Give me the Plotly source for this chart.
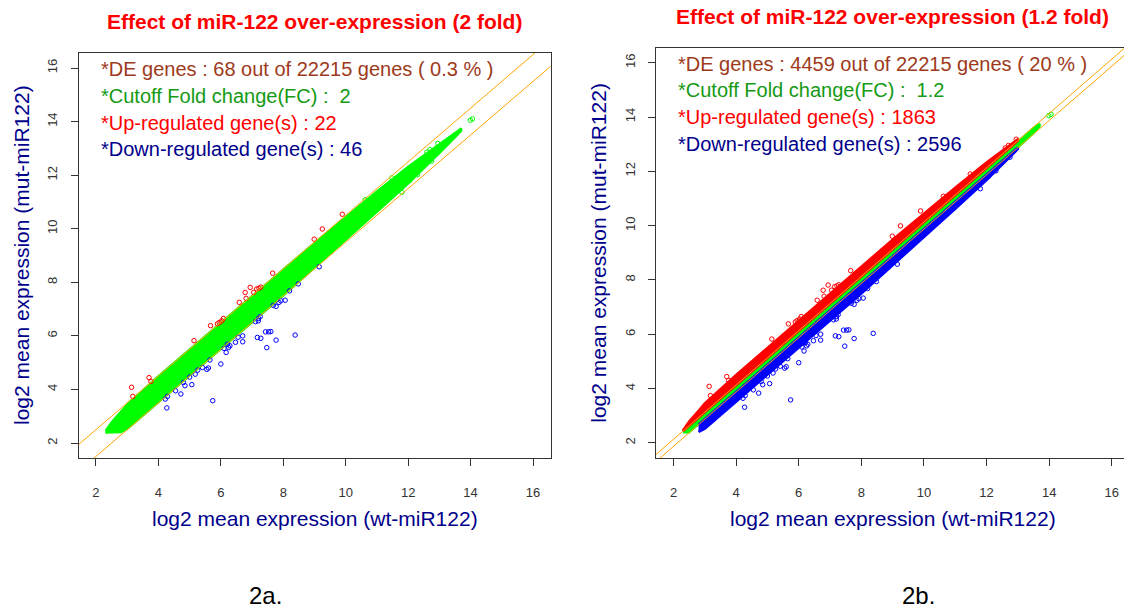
import numpy as np
import plotly.graph_objects as go

W, H = 1124, 610
FONT = "Liberation Sans, Arial, sans-serif"

# Outline of the dense gene cloud: log2 mean expression wt (x) vs mut (y)
cloud_wt = [2.30, 2.50, 2.80, 3.00, 4.00, 5.00, 6.00, 7.00, 8.00, 9.00,
            10.00, 11.00, 12.00, 13.00, 13.50, 13.70]
cloud_mut_hi = [2.45, 2.78, 3.18, 3.45, 4.50, 5.50, 6.50, 7.50, 8.50, 9.48,
                10.44, 11.40, 12.32, 13.18, 13.60, 13.75]
cloud_mut_lo = [2.38, 2.38, 2.40, 2.52, 3.50, 4.50, 5.50, 6.50, 7.50, 8.54,
                9.58, 10.62, 11.68, 12.82, 13.40, 13.65]

# Individually visible genes (wt, mut)
spot_wt = [3.14, 3.18, 3.70, 3.76, 5.14, 5.67, 5.89, 5.95, 6.03, 6.08, 6.59,
           6.78, 6.81, 6.94, 7.05, 7.15, 7.22, 7.28, 7.66, 8.99, 9.25, 9.89,
           4.27, 4.22, 4.29, 4.55, 4.72, 4.80, 4.85, 5.00, 5.07, 5.18, 5.26,
           5.41, 5.55, 5.60, 5.65, 5.74, 6.00, 6.10, 6.17, 6.21, 6.25, 6.29,
           6.47, 6.55, 6.70, 6.70, 7.11, 7.17, 7.20, 7.21, 7.26, 7.28, 7.43,
           7.47, 7.53, 7.60, 7.68, 7.77, 7.77, 7.86, 7.92, 8.06, 8.20, 8.38,
           8.48, 9.15,
           13.99, 14.06, 11.48, 11.80, 10.62, 12.70, 12.05, 12.60, 12.95,
           12.30, 12.75]
spot_mut = [4.08, 3.74, 4.44, 4.30, 5.82, 6.38, 6.45, 6.50, 6.56, 6.65, 7.25,
            7.62, 7.40, 7.81, 7.62, 7.75, 7.78, 7.82, 8.34, 9.61, 9.99, 10.54,
            3.31, 3.64, 3.74, 3.95, 3.83, 4.26, 4.14, 4.46, 4.18, 4.57, 4.72,
            4.82, 4.75, 4.80, 5.10, 3.58, 4.95, 5.53, 5.38, 5.69, 5.57, 5.63,
            5.76, 5.95, 6.00, 5.78, 6.53, 5.94, 6.56, 6.65, 6.72, 5.91, 6.15,
            5.56, 6.15, 6.16, 7.14, 5.84, 7.10, 7.25, 7.31, 7.33, 7.68, 6.03,
            7.94, 8.58,
            14.05, 14.10, 11.90, 11.36, 11.08, 12.95, 11.80, 12.86, 13.18,
            12.02, 12.52]

# Panel settings: half-width of the fold-change band around y = x
panel_titles = ["Effect of miR-122 over-expression (2 fold)",
                "Effect of miR-122 over-expression (1.2 fold)"]
band_offset = [0.50, 0.13]
de_lines = [
    ["*DE genes : 68 out of 22215 genes ( 0.3 % )",
     "*Cutoff Fold change(FC) :  2",
     "*Up-regulated gene(s) : 22",
     "*Down-regulated gene(s) : 46"],
    ["*DE genes : 4459 out of 22215 genes ( 20 % )",
     "*Cutoff Fold change(FC) :  1.2",
     "*Up-regulated gene(s) : 1863",
     "*Down-regulated gene(s) : 2596"],
]
panel_tags = ["2a.", "2b."]
ticks = [2, 4, 6, 8, 10, 12, 14, 16]

GREEN, RED, BLUE, ORANGE = "#00FF00", "#FF0000", "#0000FF", "#FFA500"
TXT = ["#9E3A1C", "#159A15", "#FF0000", "#00008B"]
NAVY = "#00008B"

# pixel geometry of the two plot boxes (left, right, top, bottom)
boxes = [(78.5, 550.5, 53.0, 458.0), (656.0, 1124.0, 47.5, 458.0)]
xranges = [[1.44, 16.56], [1.44, 1.44 + (1124 - 656) / 31.3]]
yrange = [1.44, 16.56]

fig = go.Figure()
cx = np.array(cloud_wt)
hi = np.array(cloud_mut_hi)
lo = np.array(cloud_mut_lo)
sx = np.array(spot_wt)
sy = np.array(spot_mut)


def poly(xs, top, bot):
    return (list(xs) + list(xs[::-1]), list(top) + list(bot[::-1]))


for i in range(2):
    xa = "x" if i == 0 else "x2"
    ya = "y" if i == 0 else "y2"
    c = band_offset[i]

    # green (not differentially expressed) part of the cloud
    g_top = np.minimum(hi, cx + c)
    g_bot = np.maximum(lo, cx - c)
    px, py = poly(cx, g_top, g_bot)
    fig.add_trace(go.Scatter(x=px, y=py, fill="toself", fillcolor=GREEN,
                             line=dict(color=GREEN, width=2 if i == 0 else 2),
                             mode="lines", xaxis=xa, yaxis=ya, hoverinfo="skip",
                             showlegend=False))
    if i == 1:
        # up-regulated part of the cloud
        m = hi > cx + c
        r_bot = np.maximum(cx + c, lo)[m]
        px, py = poly(cx[m], hi[m], r_bot)
        fig.add_trace(go.Scatter(x=px, y=py, fill="toself", fillcolor=RED,
                                 line=dict(color=RED, width=2.5), mode="lines",
                                 xaxis=xa, yaxis=ya, hoverinfo="skip",
                                 showlegend=False))
        # down-regulated part of the cloud
        m = lo < cx - c
        b_top = np.minimum(cx - c, hi)[m]
        px, py = poly(cx[m], b_top, lo[m])
        fig.add_trace(go.Scatter(x=px, y=py, fill="toself", fillcolor=BLUE,
                                 line=dict(color=BLUE, width=2.5), mode="lines",
                                 xaxis=xa, yaxis=ya, hoverinfo="skip",
                                 showlegend=False))

    # single genes, coloured by the panel's cutoff
    d = sy - sx
    for mask, col in [(np.abs(d) <= c, GREEN), (d > c, RED), (d < -c, BLUE)]:
        fig.add_trace(go.Scatter(x=sx[mask], y=sy[mask], mode="markers",
                                 marker=dict(symbol="circle-open", size=4.5,
                                             color=col, line=dict(width=1)),
                                 xaxis=xa, yaxis=ya, showlegend=False))

    # fold-change cutoff lines
    for s in (1, -1):
        lx = [0.0, 18.0]
        fig.add_trace(go.Scatter(x=lx, y=[v + s * c for v in lx], mode="lines",
                                 line=dict(color=ORANGE, width=1),
                                 xaxis=xa, yaxis=ya, hoverinfo="skip",
                                 showlegend=False))

axis_common = dict(showgrid=False, zeroline=False, showline=True,
                   linecolor="#333333", linewidth=1, ticks="outside",
                   ticklen=7, tickcolor="#333333", tickvals=ticks,
                   tickfont=dict(family=FONT, size=13, color="#333333"))

layout = dict(width=W, height=H, margin=dict(l=0, r=0, t=0, b=0),
              paper_bgcolor="white", plot_bgcolor="white", showlegend=False)
ann = []
for i in range(2):
    l, r, t, b = boxes[i]
    sfx = "" if i == 0 else "2"
    layout["xaxis" + sfx] = dict(axis_common, domain=[l / W, r / W],
                                 range=xranges[i], anchor="y" + sfx,
                                 mirror=True, ticklabelstandoff=15)
    layout["yaxis" + sfx] = dict(axis_common, domain=[1 - b / H, 1 - t / H],
                                 range=yrange, anchor="x" + sfx,
                                 mirror=(i == 0), tickangle=-90,
                                 ticklabelstandoff=8)
    cxp = (l + (1129.0 if i == 1 else r)) / 2
    ann.append(dict(text="<b>%s</b>" % panel_titles[i], x=cxp / W,
                    y=1 - (t - 31) / H, xref="paper", yref="paper",
                    showarrow=False, xanchor="center", yanchor="middle",
                    font=dict(family=FONT, size=21, color=RED)))
    ann.append(dict(text="log2 mean expression (wt-miR122)", x=cxp / W,
                    y=1 - 518 / H, xref="paper", yref="paper", showarrow=False,
                    xanchor="center", yanchor="middle",
                    font=dict(family=FONT, size=21, color=NAVY)))
    ann.append(dict(text="log2 mean expression (mut-miR122)",
                    x=(l - 57) / W, y=1 - (t + b) / 2 / H, xref="paper",
                    yref="paper", showarrow=False, textangle=-90,
                    xanchor="center", yanchor="middle",
                    font=dict(family=FONT, size=21, color=NAVY)))
    for k, line in enumerate(de_lines[i]):
        ann.append(dict(text=line, x=(l + 20) / W,
                        y=1 - (t + 16 + 26.8 * k) / H, xref="paper",
                        yref="paper", showarrow=False, xanchor="left",
                        yanchor="middle",
                        font=dict(family=FONT, size=20, color=TXT[k])))
    ann.append(dict(text=panel_tags[i], x=(265 if i == 0 else 918) / W,
                    y=1 - 595 / H, xref="paper", yref="paper",
                    showarrow=False, xanchor="center", yanchor="middle",
                    font=dict(family=FONT, size=24, color="black")))
layout["annotations"] = ann
fig.update_layout(**layout)

fig.write_html("out.html")
